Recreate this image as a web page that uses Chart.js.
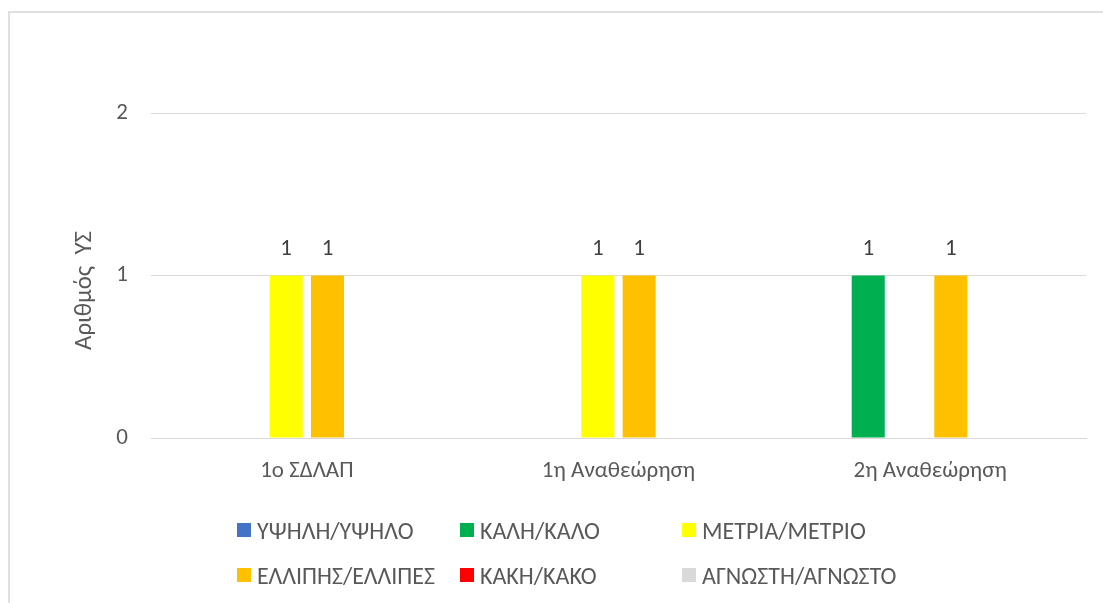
<!DOCTYPE html>
<html>
<head>
<meta charset="utf-8">
<script src="https://cdn.jsdelivr.net/npm/chart.js@4"></script>
<style>
  html, body { margin: 0; padding: 0; background: #fff; }
  body { width: 1103px; height: 603px; position: relative; overflow: hidden; font-family: Carlito, "Liberation Sans", "Open Sans", sans-serif; }
  #frame { position: absolute; left: 8px; top: 11px; width: 1200px; height: 700px; border: 2px solid #e0e0e0; box-sizing: border-box; }
  #wrap { position: absolute; left: 0; top: 0; width: 1103px; height: 603px; }
  .leg { position: absolute; display: flex; align-items: center; font-size: 24px; color: #595959; white-space: nowrap; height: 24px; }
  .leg span.box { width: 14px; height: 14px; margin-right: 6px; display: inline-block; }
</style>
</head>
<body>
<div id="frame"></div>
<div id="wrap"><canvas id="c" width="1103" height="603"></canvas></div>
<div id="legend"></div>
<script>
const categories = ["1ο ΣΔΛΑΠ", "1η Αναθεώρηση", "2η Αναθεώρηση"];
const seriesNames = ["ΥΨΗΛΗ/ΥΨΗΛΟ", "ΚΑΛΗ/ΚΑΛΟ", "ΜΕΤΡΙΑ/ΜΕΤΡΙΟ", "ΕΛΛΙΠΗΣ/ΕΛΛΙΠΕΣ", "ΚΑΚΗ/ΚΑΚΟ", "ΑΓΝΩΣΤΗ/ΑΓΝΩΣΤΟ"];
const ypsili   = [null, null, null];
const kali     = [null, null, 1];
const metria   = [1, 1, null];
const ellipis  = [1, 1, 1];
const kaki     = [null, null, null];
const agnosti  = [null, null, null];
const yTicks = [0, 1, 2];
const yTitle = "Αριθμός  ΥΣ";
const seriesColors = ["#4472C4", "#00B050", "#FFFF00", "#FFC000", "#FF0000", "#D9D9D9"];
const seriesValues = [ypsili, kali, metria, ellipis, kaki, agnosti];

const FONT = 'Carlito, "Liberation Sans", "Open Sans", sans-serif';

const valueLabels = {
  id: 'valueLabels',
  afterDatasetsDraw(chart) {
    const ctx = chart.ctx;
    ctx.save();
    ctx.font = '23px ' + FONT;
    ctx.fillStyle = '#404040';
    ctx.textAlign = 'center';
    ctx.textBaseline = 'middle';
    chart.data.datasets.forEach((ds, i) => {
      const meta = chart.getDatasetMeta(i);
      meta.data.forEach((bar, j) => {
        const v = ds.data[j];
        if (v === null || v === undefined) return;
        ctx.fillText(String(v), bar.x, bar.y - 26);
      });
    });
    ctx.restore();
  }
};

const axisTitle = {
  id: 'axisTitle',
  afterDraw(chart) {
    const ctx = chart.ctx;
    const y = chart.scales.y;
    ctx.save();
    ctx.font = '25px ' + FONT;
    ctx.fillStyle = '#595959';
    ctx.textAlign = 'center';
    ctx.textBaseline = 'middle';
    ctx.translate(85, (y.top + y.bottom) / 2 + 15);
    ctx.rotate(-Math.PI / 2);
    ctx.fillText(yTitle, 0, 0);
    ctx.restore();
  }
};

new Chart(document.getElementById('c'), {
  type: 'bar',
  data: {
    labels: categories,
    datasets: seriesNames.map((n, i) => ({
      label: n,
      data: seriesValues[i],
      backgroundColor: seriesColors[i],
      borderWidth: 0,
      categoryPercentage: 0.795,
      barPercentage: 0.8
    }))
  },
  options: {
    responsive: false,
    animation: false,
    layout: { padding: { left: 72, right: 17, top: 113, bottom: 0 } },
    plugins: { legend: { display: false }, tooltip: { enabled: false } },
    scales: {
      x: {
        grid: { display: false, drawTicks: false },
        border: { display: true, color: '#d9d9d9', width: 1 },
        ticks: { color: '#595959', font: { size: 23, family: FONT }, padding: 19 },
        afterFit(s) { s.height = 165; }
      },
      y: {
        min: 0, max: 2,
        afterBuildTicks(s) { s.ticks = yTicks.map(v => ({ value: v })); },
        grid: { color: '#d9d9d9', lineWidth: 1, drawTicks: false },
        border: { display: false },
        ticks: { color: '#595959', font: { size: 23, family: FONT }, padding: 23 },
        afterFit(s) { s.width = 151 - 72; }
      }
    }
  },
  plugins: [valueLabels, axisTitle]
});

const legendPos = [[237, 530], [460, 530], [682, 530], [237, 575], [460, 575], [682, 575]];
const legendEl = document.getElementById('legend');
seriesNames.forEach((n, i) => {
  const d = document.createElement('div');
  d.className = 'leg';
  d.style.left = legendPos[i][0] + 'px';
  d.style.top = (legendPos[i][1] - 12) + 'px';
  const b = document.createElement('span');
  b.className = 'box';
  b.style.background = seriesColors[i];
  d.appendChild(b);
  d.appendChild(document.createTextNode(n));
  legendEl.appendChild(d);
});
</script>
</body>
</html>
